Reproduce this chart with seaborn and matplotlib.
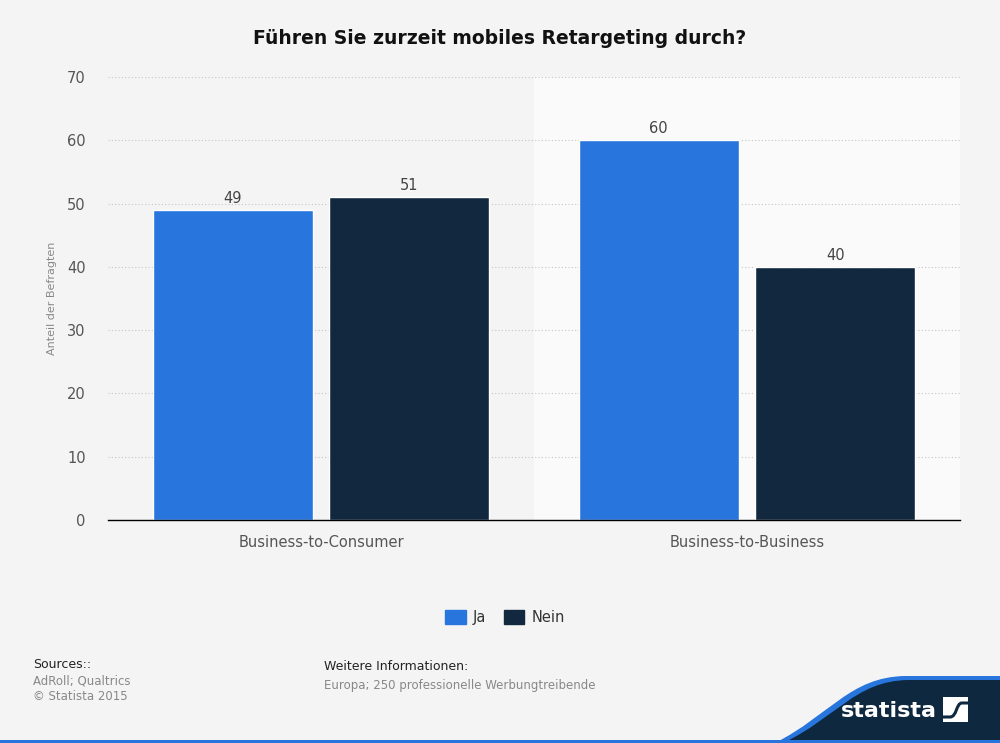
import pandas as pd
import matplotlib.pyplot as plt
import seaborn as sns
from matplotlib.path import Path
from matplotlib.patches import PathPatch, Rectangle

# data
categories = ["Business-to-Consumer", "Business-to-Business"]
answers = ["Ja", "Nein"]
ja_values = [49, 60]
nein_values = [51, 40]
y_ticks = [0, 10, 20, 30, 40, 50, 60, 70]

df = pd.DataFrame({
    "Kategorie": categories * 2,
    "Antwort": [answers[0]] * 2 + [answers[1]] * 2,
    "Wert": ja_values + nein_values,
})

bg = "#f4f4f4"
sns.set_style("white")
plt.rcParams["font.family"] = ["DejaVu Sans"]

fig = plt.figure(figsize=(10, 7.43), dpi=100, facecolor=bg)
ax = fig.add_axes([0.108, 0.3001, 0.852, 0.5963])
ax.set_facecolor(bg)

sns.barplot(data=df, x="Kategorie", y="Wert", hue="Antwort",
            palette={"Ja": "#2876dd", "Nein": "#12283f"},
            width=0.83, gap=0.094, saturation=1, ax=ax, zorder=3)

ax.set_xlim(-0.5, 1.5)
ax.axvspan(0.5, 1.5, color="#fafafa", zorder=0, lw=0)
ax.set_ylim(0, 70)
ax.set_yticks(y_ticks)
ax.yaxis.grid(True, linestyle=(0, (1, 2)), color="#c4c4c4", linewidth=0.8, zorder=1)
ax.set_axisbelow(True)

for s in ["top", "right", "left"]:
    ax.spines[s].set_visible(False)
ax.spines["bottom"].set_color("#000000")
ax.spines["bottom"].set_linewidth(1)
ax.spines["bottom"].set_zorder(5)

ax.tick_params(axis="both", length=0, labelsize=10.5, labelcolor="#555555")
ax.tick_params(axis="y", pad=16)
ax.tick_params(axis="x", pad=11)
ax.set_xlabel("")
ax.set_ylabel("Anteil der Befragten", fontsize=8, color="#888888", labelpad=7)

for cont in ax.containers:
    ax.bar_label(cont, fmt="%d", padding=3, fontsize=10.5, color="#444444")

ax.legend_.remove()
handles = [Rectangle((0, 0), 1, 1, color="#2876dd"), Rectangle((0, 0), 1, 1, color="#12283f")]
fig.legend(handles, answers, loc="center", bbox_to_anchor=(0.505, 0.1695), ncol=2,
           frameon=False, fontsize=10.5, handlelength=1.4, handleheight=1.1,
           handletextpad=0.5, columnspacing=1.2, labelcolor="#333333")

fig.text(0.5, 0.948, "Führen Sie zurzeit mobiles Retargeting durch?", ha="center", va="center",
         fontsize=13.5, fontweight="bold", color="#111111")

# footer
fig.text(0.033, 0.106, "Sources::", fontsize=9, color="#222222", va="center")
fig.text(0.033, 0.083, "AdRoll; Qualtrics", fontsize=8.5, color="#888888", va="center")
fig.text(0.033, 0.062, "© Statista 2015", fontsize=8.5, color="#888888", va="center")
fig.text(0.324, 0.103, "Weitere Informationen:", fontsize=9, color="#222222", va="center")
fig.text(0.324, 0.078, "Europa; 250 professionelle Werbungtreibende", fontsize=8.5,
         color="#888888", va="center")

# logo band
W, H = 1000.0, 743.0
def fx(x, y):
    return (x / W, 1 - y / H)

codes = [Path.MOVETO, Path.CURVE4, Path.CURVE4, Path.CURVE4, Path.LINETO, Path.LINETO, Path.CLOSEPOLY]
verts_blue = [fx(775, 743), fx(830, 715), fx(850, 677), fx(905, 676), fx(1000, 676),
              fx(1000, 743), fx(775, 743)]
fig.patches.append(PathPatch(Path(verts_blue, codes), transform=fig.transFigure,
                             facecolor="#2876dd", edgecolor="none", zorder=1))
verts_navy = [fx(783, 743), fx(836, 718), fx(855, 681), fx(908, 680), fx(1000, 680),
              fx(1000, 743), fx(783, 743)]
fig.patches.append(PathPatch(Path(verts_navy, codes), transform=fig.transFigure,
                             facecolor="#0e2840", edgecolor="none", zorder=2))
fig.patches.append(Rectangle(fx(0, 743), 1, 3 / H, transform=fig.transFigure,
                             facecolor="#2876dd", edgecolor="none", zorder=3))
fig.text(0.889, 0.043, "statista", fontsize=16, fontweight="bold", color="white",
         ha="center", va="center", zorder=4)
fig.patches.append(Rectangle(fx(943, 722), 25 / W, 25 / H, transform=fig.transFigure,
                             facecolor="white", edgecolor="none", zorder=4))
s_codes = [Path.MOVETO, Path.LINETO, Path.CURVE4, Path.CURVE4, Path.CURVE4, Path.LINETO]
s_verts = [fx(943, 717), fx(950, 717), fx(957, 717), fx(956, 703), fx(962, 703), fx(968, 703)]
fig.patches.append(PathPatch(Path(s_verts, s_codes), transform=fig.transFigure,
                             facecolor="none", edgecolor="#0e2840", linewidth=2.2,
                             capstyle="butt", zorder=5))

fig.savefig("out.png", dpi=100, facecolor=bg)
